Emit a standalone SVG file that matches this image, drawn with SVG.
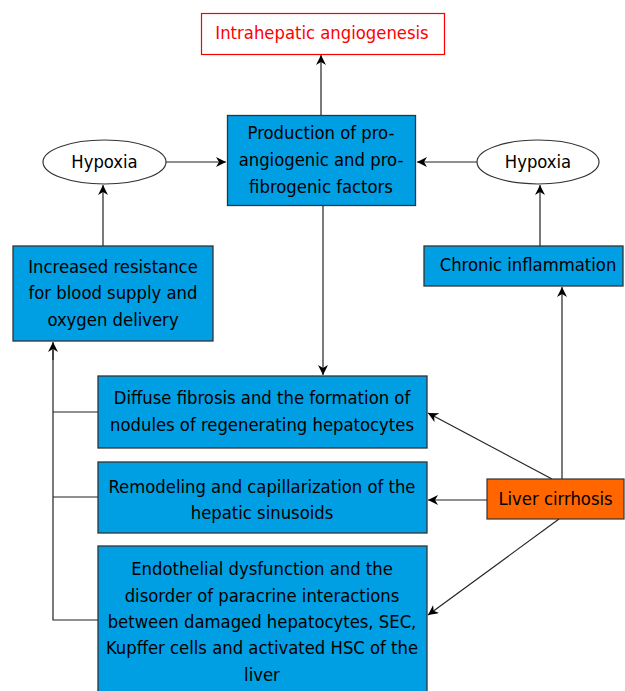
<svg xmlns="http://www.w3.org/2000/svg" width="625" height="691" viewBox="0 0 625 691">
<defs>
<marker id="arr" viewBox="0 0 10 10" refX="10" refY="5" markerWidth="10" markerHeight="10" markerUnits="userSpaceOnUse" orient="auto">
<path d="M0,0 L10,5 L0,10 L3,5 z" fill="#000"/>
</marker>
<style>
.box{fill:#009FE3;stroke:#333;stroke-width:1.3}
.ell{fill:#fff;stroke:#333;stroke-width:1.2}
.t{font-family:"DejaVu Sans Condensed","DejaVu Sans",Verdana,sans-serif;font-stretch:condensed;font-size:18.3px;fill:#000;text-anchor:middle}
.c{fill:none;stroke:#222;stroke-width:1.2}
.ca{fill:none;stroke:#222;stroke-width:1.2;marker-end:url(#arr)}
</style>
</defs>
<rect width="625" height="691" fill="#fff"/>
<g id="connectors">
<line class="ca" x1="321" y1="115" x2="321" y2="55"/>
<line class="ca" x1="166" y1="162" x2="226" y2="162"/>
<line class="ca" x1="477" y1="162" x2="417" y2="162"/>
<line class="ca" x1="103" y1="246" x2="103" y2="185"/>
<line class="ca" x1="540" y1="246" x2="540" y2="185"/>
<line class="ca" x1="323" y1="206" x2="323" y2="375"/>
<path class="c" d="M98,412 H53 M98,497 H53 M98,620 H53 V350"/>
<line class="ca" x1="53" y1="360" x2="53" y2="342"/>
<line class="ca" x1="562" y1="479" x2="562" y2="287"/>
<line class="ca" x1="552" y1="479" x2="428" y2="413"/>
<line class="ca" x1="487" y1="500" x2="428" y2="500"/>
<line class="ca" x1="559" y1="519" x2="428" y2="615"/>
</g>
<g id="angiogenesis">
<rect x="201.5" y="13.5" width="243" height="41" fill="#fff" stroke="#FF0000" stroke-width="1.2"/>
<text class="t" x="322" y="39" style="fill:#FF0000">Intrahepatic angiogenesis</text>
</g>
<g id="production">
<rect class="box" x="227.5" y="115.5" width="188" height="90"/>
<text class="t" x="321" y="139">Production of pro-</text>
<text class="t" x="321" y="166">angiogenic and pro-</text>
<text class="t" x="321" y="193">fibrogenic factors</text>
</g>
<g id="hypoxia-left">
<ellipse class="ell" cx="104.5" cy="162" rx="61.5" ry="22"/>
<text class="t" x="104.5" y="168">Hypoxia</text>
</g>
<g id="hypoxia-right">
<ellipse class="ell" cx="538" cy="162" rx="61" ry="22"/>
<text class="t" x="538" y="168">Hypoxia</text>
</g>
<g id="resistance">
<rect class="box" x="13" y="246" width="200" height="95"/>
<text class="t" x="113" y="273">Increased resistance</text>
<text class="t" x="113" y="299">for blood supply and</text>
<text class="t" x="113" y="326">oxygen delivery</text>
</g>
<g id="inflammation">
<rect class="box" x="424" y="246" width="199" height="40"/>
<text class="t" x="528" y="271">Chronic inflammation</text>
</g>
<g id="fibrosis">
<rect class="box" x="98" y="376" width="329" height="72"/>
<text class="t" x="262" y="404">Diffuse fibrosis and the formation of</text>
<text class="t" x="262" y="431">nodules of regenerating hepatocytes</text>
</g>
<g id="remodeling">
<rect class="box" x="98" y="462" width="329" height="71"/>
<text class="t" x="262" y="493">Remodeling and capillarization of the</text>
<text class="t" x="262" y="519">hepatic sinusoids</text>
</g>
<g id="endothelial">
<rect class="box" x="98" y="546" width="329" height="150"/>
<text class="t" x="262" y="575">Endothelial dysfunction and the</text>
<text class="t" x="262" y="602">disorder of paracrine interactions</text>
<text class="t" x="262" y="628">between damaged hepatocytes, SEC,</text>
<text class="t" x="262" y="654">Kupffer cells and activated HSC of the</text>
<text class="t" x="262" y="681">liver</text>
</g>
<g id="cirrhosis">
<rect x="487" y="479" width="137" height="40" fill="#FF6600" stroke="#333" stroke-width="1.2"/>
<text class="t" x="555.5" y="505">Liver cirrhosis</text>
</g>
</svg>
